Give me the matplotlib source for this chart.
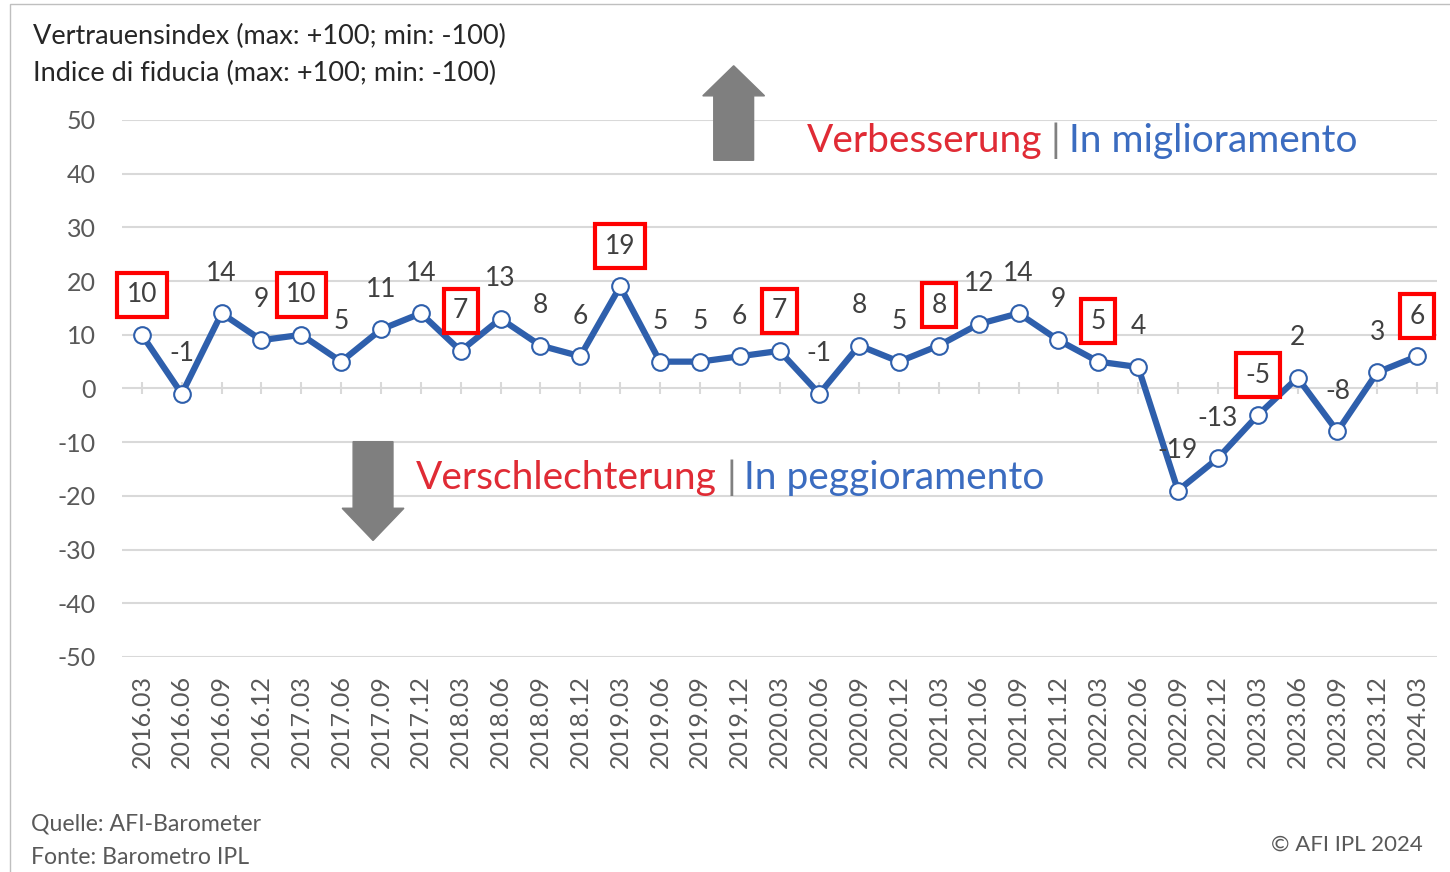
import matplotlib.pyplot as plt
from matplotlib.patches import FancyArrow, Rectangle

plt.rcParams['font.family'] = ['Lato', 'DejaVu Sans']

quarters = ["2016.03", "2016.06", "2016.09", "2016.12",
            "2017.03", "2017.06", "2017.09", "2017.12",
            "2018.03", "2018.06", "2018.09", "2018.12",
            "2019.03", "2019.06", "2019.09", "2019.12",
            "2020.03", "2020.06", "2020.09", "2020.12",
            "2021.03", "2021.06", "2021.09", "2021.12",
            "2022.03", "2022.06", "2022.09", "2022.12",
            "2023.03", "2023.06", "2023.09", "2023.12",
            "2024.03"]
index_values = [10, -1, 14, 9, 10, 5, 11, 14, 7, 13, 8, 6, 19, 5, 5, 6,
                7, -1, 8, 5, 8, 12, 14, 9, 5, 4, -19, -13, -5, 2, -8, 3, 6]
y_ticks = [50, 40, 30, 20, 10, 0, -10, -20, -30, -40, -50]

BLUE = "#2e5fac"
GRID = "#d9d9d9"
W, H = 1450, 872

fig = plt.figure(figsize=(W / 100, H / 100), dpi=100)
ax = fig.add_axes([122 / W, 1 - 657 / H, (1437 - 122) / W, (657 - 120) / H])

x = list(range(len(quarters)))

ax.set_xlim(-0.5, len(quarters) - 0.5)
ax.set_ylim(-50, 50)
ax.set_yticks(y_ticks)
ax.set_yticklabels([str(t) for t in y_ticks])
ax.set_xticks(x)
ax.set_xticklabels(quarters, rotation=90)
ax.tick_params(axis='y', length=0, pad=19, labelsize=18, labelcolor="#595959")
ax.tick_params(axis='x', length=0, pad=13, labelsize=18, labelcolor="#595959")
for s in ax.spines.values():
    s.set_visible(False)
for t in y_ticks:
    ax.axhline(t, color=GRID, lw=1.5, zorder=1)

# small category ticks on the zero line
ax.plot(x + [len(quarters) - 0.5], [0] * (len(quarters) + 1), linestyle='none',
        marker='|', ms=9, mew=1.5, color=GRID, zorder=1, clip_on=False)

ax.plot(x, index_values, color=BLUE, lw=4.5, marker='o', ms=12,
        mfc='white', mec=BLUE, mew=1.5, zorder=3)

for i, v in enumerate(index_values):
    kw = {}
    if quarters[i].endswith(".03"):
        kw['bbox'] = dict(boxstyle='square,pad=0.36', fc='white', ec='#ff0000', lw=3)
    ax.annotate(str(v), (i, v), xytext=(0, 29), textcoords='offset points',
                ha='center', va='center', fontsize=19, color="#404040",
                zorder=4, **kw)

# arrows
ax.add_patch(FancyArrow(14.85, 42.5, 0, 17.6, width=1.0, head_width=1.55,
                        head_length=5.6, length_includes_head=True,
                        color="#7f7f7f", clip_on=False, zorder=2))
ax.add_patch(FancyArrow(5.8, -9.9, 0, -18.4, width=1.0, head_width=1.55,
                        head_length=6.0, length_includes_head=True,
                        color="#7f7f7f", clip_on=False, zorder=2))


def fx(px):
    return px / W


def fy(py):
    return 1 - py / H


RED = "#e02b35"
LBLUE = "#3b6cc0"
fig.text(fx(1042), fy(141), "Verbesserung", color=RED, fontsize=28, ha='right', va='center')
fig.text(fx(1055), fy(141), "|", color="#808080", fontsize=28, ha='center', va='center')
fig.text(fx(1069), fy(141), "In miglioramento", color=LBLUE, fontsize=28, ha='left', va='center')
fig.text(fx(717), fy(478), "Verschlechterung", color=RED, fontsize=28, ha='right', va='center')
fig.text(fx(731), fy(478), "|", color="#808080", fontsize=28, ha='center', va='center')
fig.text(fx(744), fy(478), "In peggioramento", color=LBLUE, fontsize=28, ha='left', va='center')

fig.text(fx(33), fy(36), "Vertrauensindex (max: +100; min: -100)", fontsize=19.5,
         color="#262626", ha='left', va='center')
fig.text(fx(33), fy(73), "Indice di fiducia (max: +100; min: -100)", fontsize=19.5,
         color="#262626", ha='left', va='center')

fig.text(fx(31), fy(824), "Quelle: AFI-Barometer", fontsize=16.6, color="#595959", va='center')
fig.text(fx(31), fy(857), "Fonte: Barometro IPL", fontsize=16.6, color="#595959", va='center')
fig.text(fx(1423), fy(845), "\u00a9 AFI IPL 2024", fontsize=16, color="#595959",
         ha='right', va='center')

fig.patches.append(Rectangle((fx(10), fy(H + 5)), fx(W + 10), fy(4) - fy(H + 5),
                             transform=fig.transFigure, fill=False,
                             ec="#bfbfbf", lw=1))

fig.savefig("out.png", dpi=100)
